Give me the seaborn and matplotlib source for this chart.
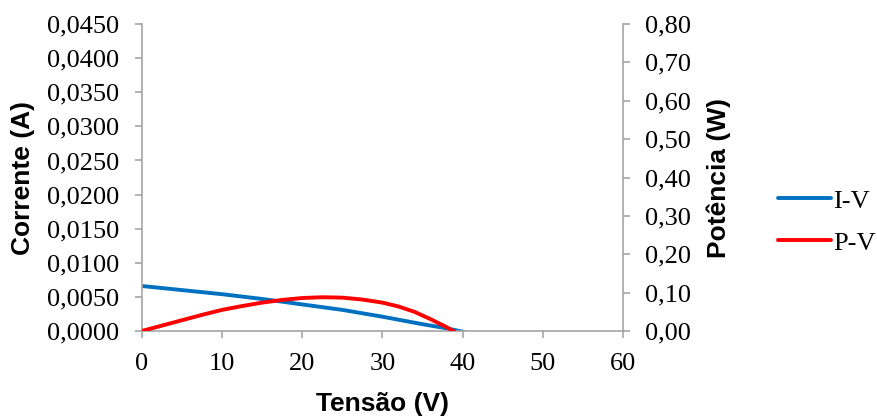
import matplotlib
matplotlib.use("Agg")
import matplotlib.pyplot as plt
import seaborn as sns
import pandas as pd
from matplotlib.ticker import FuncFormatter, MultipleLocator
from matplotlib.lines import Line2D

# Data
iv_voltage = [0, 5, 10, 15, 20, 25, 30, 35, 38, 40.4]
iv_current = [0.0066, 0.0060, 0.0054, 0.0047, 0.0039, 0.0031, 0.0021, 0.0010, 0.0004, -0.0002]
pv_voltage = [0, 2.5, 5, 7.5, 10, 12.5, 15, 17.5, 20, 22.5, 25, 27.5, 30, 32, 34, 36, 38, 39]
pv_power = [0, 0.014, 0.028, 0.042, 0.055, 0.065, 0.074, 0.081, 0.086, 0.088, 0.087,
            0.082, 0.074, 0.064, 0.050, 0.031, 0.010, -0.002]

series_labels = ["I-V", "P-V"]
x_label = "Tensão (V)"
y_left_label = "Corrente (A)"
y_right_label = "Potência (W)"

sns.set_style("ticks")
plt.rcParams['font.family'] = ['Liberation Serif', 'DejaVu Serif']
plt.rcParams['text.color'] = 'black'
plt.rcParams['axes.labelcolor'] = 'black'

BLUE = "#0070C0"
RED = "#FF0000"
GRAY = "#A6A6A6"
FS = 19
LW = 2.8

fig = plt.figure(figsize=(8.77, 4.17), dpi=100)
ax = fig.add_axes([0.1616, 0.2062, 0.7104 - 0.1616, 0.9424 - 0.2062])
ax2 = ax.twinx()

df_iv = pd.DataFrame({"V": iv_voltage, "I": iv_current})
df_pv = pd.DataFrame({"V": pv_voltage, "P": pv_power})

sns.lineplot(data=df_iv, x="V", y="I", ax=ax, color=BLUE, lw=LW, sort=False,
             estimator=None, legend=False)
sns.lineplot(data=df_pv, x="V", y="P", ax=ax2, color=RED, lw=LW, sort=False,
             estimator=None, legend=False)

ax.set_xlim(0, 60)
ax.set_ylim(0, 0.045)
ax2.set_ylim(0, 0.80)
ax.xaxis.set_major_locator(MultipleLocator(10))
ax.yaxis.set_major_locator(MultipleLocator(0.005))
ax2.yaxis.set_major_locator(MultipleLocator(0.10))

ax.yaxis.set_major_formatter(FuncFormatter(lambda v, p: f"{v:.4f}".replace(".", ",")))
ax2.yaxis.set_major_formatter(FuncFormatter(lambda v, p: f"{v:.2f}".replace(".", ",")))
ax.xaxis.set_major_formatter(FuncFormatter(lambda v, p: f"{v:.0f}"))

for a in (ax, ax2):
    a.spines["top"].set_visible(False)
    for s in ("left", "right", "bottom"):
        a.spines[s].set_color(GRAY)
        a.spines[s].set_linewidth(1.2)
    a.tick_params(colors=GRAY, labelcolor="black", labelsize=FS, length=5,
                  width=1.2, direction="out", pad=11)
ax.spines["right"].set_visible(False)
ax2.spines["left"].set_visible(False)
ax2.spines["bottom"].set_visible(False)

lab_font = dict(family=['Liberation Sans', 'DejaVu Sans'], fontsize=FS,
                fontweight="bold", color="black")
ax.set_xlabel(x_label, **lab_font, labelpad=12)
ax.set_ylabel(y_left_label, **lab_font, labelpad=9)
ax2.set_ylabel(y_right_label, **lab_font, labelpad=11)

handles = [Line2D([], [], color=BLUE, lw=LW), Line2D([], [], color=RED, lw=LW)]
leg = fig.legend(handles, series_labels, loc="center left", bbox_to_anchor=(0.875, 0.468),
                 frameon=False, fontsize=FS, handlelength=2.0, handletextpad=0.1,
                 labelspacing=0.7, borderaxespad=0)
for t in leg.get_texts():
    t.set_color("black")

fig.savefig("out.png", dpi=100)
